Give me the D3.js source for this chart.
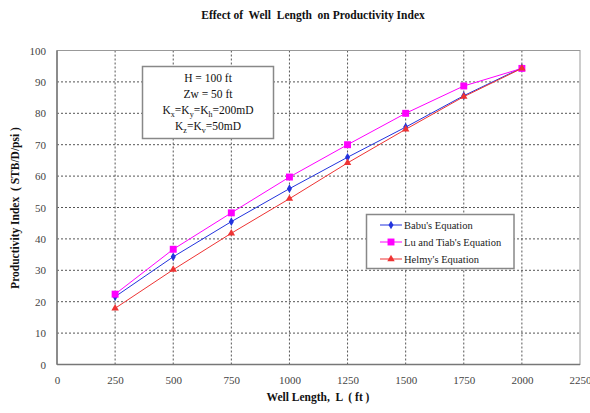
<!DOCTYPE html>
<html>
<head>
<meta charset="utf-8">
<script src="https://cdn.jsdelivr.net/npm/d3@7"></script>
<style>
  html, body { margin: 0; padding: 0; background: #fff; }
  svg { display: block; font-family: "Liberation Serif", "DejaVu Serif", serif; }
</style>
</head>
<body>
<svg id="chart" width="590" height="413"></svg>
<script>
// Well length (ft) and productivity index (STB/D/psi) for three methods
const wellLength = [250, 500, 750, 1000, 1250, 1500, 1750, 2000];
const babu   = [21.6, 34.3, 45.5, 56.0, 66.0, 75.6, 85.6, 94.5];
const luTiab = [22.4, 36.7, 48.3, 59.7, 70.0, 80.0, 88.7, 94.3];
const helmy  = [17.9, 30.2, 41.8, 52.8, 64.2, 74.9, 85.3, 94.3];

const xTicks = [0, 250, 500, 750, 1000, 1250, 1500, 1750, 2000, 2250];
const yTicks = [0, 10, 20, 30, 40, 50, 60, 70, 80, 90, 100];

const seriesNames = ["Babu's Equation", "Lu and Tiab's Equation", "Helmy's Equation"];
const seriesValues = [babu, luTiab, helmy];
const seriesColors = ["#2233dd", "#ff00ff", "#ee3333"];
const seriesMarkers = [d3.symbolDiamond, d3.symbolSquare, d3.symbolTriangle];
const markerSizes = [22, 48, 24];

// reservoir parameters; s marks a subscript
const annotation = [
  [{t: "H = 100 ft"}],
  [{t: "Zw = 50 ft"}],
  [{t: "K"}, {t: "x", s: 1}, {t: "=K"}, {t: "y", s: 1}, {t: "=K"}, {t: "h", s: 1}, {t: "=200mD"}],
  [{t: "K"}, {t: "z", s: 1}, {t: "=K"}, {t: "v", s: 1}, {t: "=50mD"}]
];

const svg = d3.select("#chart");
const plot = {left: 57, right: 580, top: 50.5, bottom: 364.5};

const x = d3.scaleLinear().domain([0, 2250]).range([plot.left, plot.right]);
const y = d3.scaleLinear().domain([0, 100]).range([plot.bottom, plot.top]);

// dotted grid
const grid = svg.append("g");
grid.selectAll("line.v").data(xTicks.filter(d => d > 0 && d < 2250)).join("line")
  .attr("x1", d => x(d)).attr("x2", d => x(d))
  .attr("y1", plot.top).attr("y2", plot.bottom)
  .attr("stroke", "#555").attr("stroke-width", 1).attr("stroke-dasharray", "2,2");
grid.selectAll("line.h").data(yTicks.filter(d => d > 0 && d < 100)).join("line")
  .attr("x1", plot.left).attr("x2", plot.right)
  .attr("y1", d => y(d)).attr("y2", d => y(d))
  .attr("stroke", "#555").attr("stroke-width", 1).attr("stroke-dasharray", "2,2");

// plot frame
svg.append("rect")
  .attr("x", plot.left).attr("y", plot.top)
  .attr("width", plot.right - plot.left).attr("height", plot.bottom - plot.top)
  .attr("fill", "none").attr("stroke", "#999").attr("stroke-width", 1);
svg.append("line").attr("x1", plot.left).attr("x2", plot.left)
  .attr("y1", plot.top).attr("y2", plot.bottom).attr("stroke", "#777").attr("stroke-width", 1.5);
svg.append("line").attr("x1", plot.left).attr("x2", plot.right)
  .attr("y1", plot.bottom).attr("y2", plot.bottom).attr("stroke", "#777").attr("stroke-width", 1.5);

// axes
const xAxis = svg.append("g").attr("transform", `translate(0,${plot.bottom})`)
  .call(d3.axisBottom(x).tickValues(xTicks).tickSize(0).tickPadding(12).tickFormat(d3.format("d")));
const yAxis = svg.append("g").attr("transform", `translate(${plot.left},0)`)
  .call(d3.axisLeft(y).tickValues(yTicks).tickSize(0).tickPadding(11).tickFormat(d3.format("d")));
[xAxis, yAxis].forEach(a => {
  a.select(".domain").remove();
  a.selectAll("text").attr("font-family", "Liberation Serif, serif")
    .attr("font-size", 11).attr("fill", "#444");
});

// series
const line = d3.line().x((d, i) => x(wellLength[i])).y(d => y(d));
seriesValues.forEach((vals, k) => {
  const g = svg.append("g");
  g.append("path").datum(vals).attr("d", line)
    .attr("fill", "none").attr("stroke", seriesColors[k]).attr("stroke-width", 1);
  g.selectAll("path.m").data(vals).join("path")
    .attr("transform", (d, i) => `translate(${x(wellLength[i])},${y(d)})`)
    .attr("d", d3.symbol().type(seriesMarkers[k]).size(markerSizes[k]))
    .attr("fill", seriesColors[k]);
});

// title
svg.append("text").attr("x", 313).attr("y", 19).attr("text-anchor", "middle")
  .attr("font-size", 11.5).attr("font-weight", "bold").attr("fill", "#111")
  .attr("xml:space", "preserve")
  .text("Effect of  Well  Length  on Productivity Index");

// axis titles
svg.append("text").attr("x", 318).attr("y", 401).attr("text-anchor", "middle")
  .attr("font-size", 11.5).attr("font-weight", "bold").attr("fill", "#111")
  .attr("xml:space", "preserve")
  .text("Well Length,  L  ( ft )");
svg.append("text").attr("transform", "translate(19,208) rotate(-90)")
  .attr("text-anchor", "middle")
  .attr("font-size", 11.5).attr("font-weight", "bold").attr("fill", "#111")
  .attr("xml:space", "preserve")
  .text("Productivity Index  ( STB/D/psi )");

// parameter box
const box = svg.append("g");
box.append("rect").attr("x", 142.5).attr("y", 66.5).attr("width", 131).attr("height", 72)
  .attr("fill", "#fff").attr("stroke", "#888").attr("stroke-width", 1.5);
const lineY = [82, 98, 114, 130];
annotation.forEach((parts, i) => {
  const t = box.append("text").attr("x", 208).attr("y", lineY[i])
    .attr("text-anchor", "middle").attr("font-size", 11.5).attr("fill", "#111");
  parts.forEach((p, j) => {
    const prev = parts[j - 1];
    const ts = t.append("tspan").text(p.t);
    if (p.s) ts.attr("font-size", 8).attr("dy", 3);
    else if (prev && prev.s) ts.attr("dy", -3);
  });
});

// legend
const legend = svg.append("g");
legend.append("rect").attr("x", 366.5).attr("y", 214.5).attr("width", 147.5).attr("height", 54)
  .attr("fill", "#fff").attr("stroke", "#888").attr("stroke-width", 1.5);
const legendY = [225, 242, 259];
seriesNames.forEach((name, k) => {
  legend.append("line").attr("x1", 380).attr("x2", 402)
    .attr("y1", legendY[k]).attr("y2", legendY[k])
    .attr("stroke", seriesColors[k]).attr("stroke-width", 1);
  legend.append("path").attr("transform", `translate(391,${legendY[k]})`)
    .attr("d", d3.symbol().type(seriesMarkers[k]).size(markerSizes[k]))
    .attr("fill", seriesColors[k]);
  legend.append("text").attr("x", 404).attr("y", legendY[k] + 3.5)
    .attr("font-size", 10.5).attr("fill", "#222").text(name);
});
</script>
</body>
</html>
